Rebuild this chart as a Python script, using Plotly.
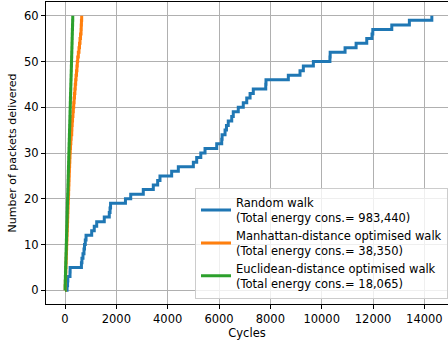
import plotly.graph_objects as go

packets = [0, 1, 2, 3, 4, 5, 6, 7, 8, 9, 10, 11, 12, 13, 14, 15, 16, 17, 18, 19, 20,
           21, 22, 23, 24, 25, 26, 27, 28, 29, 30, 31, 32, 33, 34, 35, 36, 37, 38, 39, 40,
           41, 42, 43, 44, 45, 46, 47, 48, 49, 50, 51, 52, 53, 54, 55, 56, 57, 58, 59, 60]

random_cycles = [0, 80, 100, 110, 195, 200, 640, 660, 700, 740, 760, 790, 820, 1040, 1140,
                 1235, 1530, 1725, 1755, 1775, 2355, 2560, 3050, 3440, 3610, 3700, 4155, 4415,
                 5000, 5130, 5290, 5455, 5910, 6105, 6120, 6235, 6290, 6360, 6495, 6555, 6750,
                 6945, 7080, 7210, 7335, 7820, 7830, 8700, 9155, 9285, 9675, 10320, 10330,
                 10910, 11340, 11755, 11960, 11990, 12730, 13415, 14290]

manhattan_cycles = [0, 8, 14, 20, 28, 33, 40, 46, 52, 58, 64, 70, 77, 83, 90, 96, 103, 108,
                    115, 121, 128, 134, 141, 147, 154, 160, 166, 172, 180, 188, 195, 205, 215,
                    228, 240, 262, 268, 281, 294, 310, 325, 340, 355, 370, 385, 400, 415, 430,
                    448, 465, 480, 495, 520, 545, 565, 585, 605, 625, 632, 640, 650]

euclidean_cycles = [0, 4, 9, 14, 19, 24, 29, 34, 39, 44, 49, 54, 59, 64, 69, 74, 79, 84, 89,
                    94, 99, 104, 110, 115, 120, 125, 130, 135, 140, 145, 150, 155, 160, 166,
                    171, 176, 181, 186, 191, 196, 201, 206, 211, 216, 221, 226, 231, 237, 242,
                    247, 252, 257, 262, 267, 272, 277, 282, 287, 292, 297, 302]

names = ["Random walk<br>(Total energy cons.= 983,440)",
         "Manhattan-distance optimised walk<br>(Total energy cons.= 38,350)",
         "Euclidean-distance optimised walk<br>(Total energy cons.= 18,065)"]
colors = ["#1f77b4", "#ff7f0e", "#2ca02c"]
series = [random_cycles, manhattan_cycles, euclidean_cycles]

font = "DejaVu Sans, Verdana, sans-serif"

fig = go.Figure()
for xs, nm, c in zip(series, names, colors):
    fig.add_trace(go.Scatter(x=xs, y=packets[:len(xs)], mode="lines", name=nm,
                             line=dict(color=c, width=3, shape="hv")))

fig.update_layout(
    width=448, height=342,
    margin=dict(l=46, r=0, t=2, b=38, autoexpand=False),
    paper_bgcolor="white", plot_bgcolor="white",
    font=dict(family=font, size=11.5, color="black"),
    showlegend=True,
    legend=dict(x=1, y=0.018, xanchor="right", yanchor="bottom",
                bgcolor="rgba(255,255,255,0.8)", bordercolor="#cccccc", borderwidth=1,
                font=dict(family=font, size=11.5, color="black"),
                itemwidth=30, tracegroupgap=0),
)
fig.update_xaxes(
    range=[-740, 14920], tickvals=[0, 2000, 4000, 6000, 8000, 10000, 12000, 14000],
    ticktext=["0", "2000", "4000", "6000", "8000", "10000", "12000", "14000"],
    showgrid=True, gridcolor="#b0b0b0", gridwidth=1, zeroline=False,
    showline=True, linecolor="black", linewidth=1, mirror=True,
    ticks="outside", ticklen=4, tickcolor="black", automargin=False,
    tickfont=dict(size=11.5),
    title=dict(text="Cycles", standoff=3, font=dict(size=11.5)),
)
fig.update_yaxes(
    range=[-3, 63], tickvals=[0, 10, 20, 30, 40, 50, 60],
    showgrid=True, gridcolor="#b0b0b0", gridwidth=1, zeroline=False,
    showline=True, linecolor="black", linewidth=1, mirror=False,
    ticks="outside", ticklen=4, tickcolor="black", automargin=False,
    tickfont=dict(size=11.5),
    title=dict(text="Number of packets delivered", standoff=5, font=dict(size=11)),
)

fig.write_html("out.html", config={"displayModeBar": False},
               post_script="document.body.style.margin='0';document.body.style.overflow='hidden';")
